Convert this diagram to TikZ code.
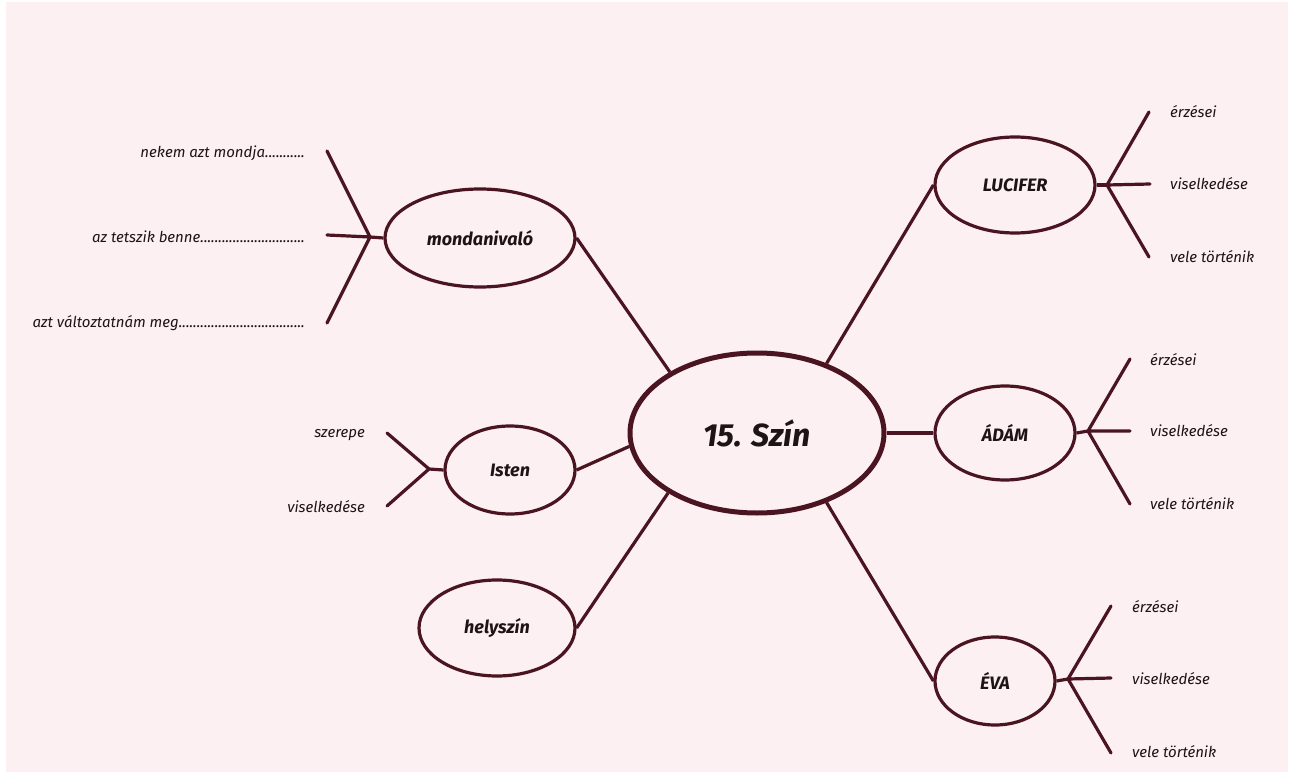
\documentclass[tikz,border=0pt]{standalone}
\usepackage{fontspec}
\setmainfont{Fira Sans}
\usetikzlibrary{shapes.geometric}
\definecolor{paper}{HTML}{FCF0F2}
\definecolor{wine}{HTML}{4A1520}
\definecolor{ink}{HTML}{1E1316}
\begin{document}
\begin{tikzpicture}[x=1pt,y=-1pt,
  topic/.style={ellipse,draw=wine,line width=3.2pt,inner sep=0pt,text=ink,
    font=\bfseries\itshape\fontsize{18}{21}\selectfont},
  hub/.style={ellipse,draw=wine,line width=5pt,inner sep=0pt,text=ink,
    minimum width=254pt,minimum height=160pt,
    font=\bfseries\itshape\fontsize{32}{36}\selectfont},
  link/.style={draw=wine,line width=3.2pt},
  twig/.style={draw=wine,line width=3.2pt,line cap=round},
  note/.style={inner sep=0pt,text=ink,font=\itshape\fontsize{15}{18}\selectfont}]

% paper
\fill[white] (0,0) rectangle (1293,778);
\fill[paper] (6,2) rectangle (1288,772);

% central scene
\node[hub] (scene) at (757,433) {15. Szín};

% topics
\node[topic,minimum width=190pt,minimum height=98pt] (mond) at (480,238) {mondanivaló};
\node[topic,minimum width=130pt,minimum height=88pt] (isten) at (510,470) {Isten};
\node[topic,minimum width=156pt,minimum height=96pt] (hely) at (497,628) {helyszín};
\node[topic,minimum width=160pt,minimum height=96pt] (luc) at (1015,185) {LUCIFER};
\node[topic,minimum width=140pt,minimum height=94pt] (adam) at (1005,433) {ÁDÁM};
\node[topic,minimum width=120pt,minimum height=88pt] (eva) at (995,681) {ÉVA};

% spokes from the scene
\draw[link] (scene.145.6) -- (mond.east);
\draw[link] (scene.45) -- (luc.west);
\draw[link] (scene.186.4) -- (isten.east);
\draw[link] (scene.214) -- (hely.east);
\draw[link] (scene.east) -- (adam.west);
\draw[link] (scene.-45.8) -- (eva.west);

% mondanivaló fork
\coordinate (mj) at (370,237);
\coordinate (m1) at (327,151);
\coordinate (m2) at (327,235);
\coordinate (m3) at (327,323);
\draw[link] (mond.west) -- (mj);
\draw[twig] (mj) -- (m1) (mj) -- (m2) (mj) -- (m3);
\node[note,anchor=east] (mt1) at (305,153) {nekem azt mondja...........};
\node[note,anchor=east] (mt2) at (305,237) {az tetszik benne.............................};
\node[note,anchor=east] (mt3) at (305,323) {azt változtatnám meg...................................};

% Isten fork
\coordinate (ij) at (429,469);
\coordinate (i1) at (387,433);
\coordinate (i2) at (387,506);
\draw[link] (isten.west) -- (ij);
\draw[twig] (ij) -- (i1) (ij) -- (i2);
\node[note,anchor=east] (it1) at (365,435) {szerepe};
\node[note,anchor=east] (it2) at (365,507) {viselkedése};

% LUCIFER fork
\coordinate (lj) at (1107,185);
\coordinate (l1) at (1149,112);
\coordinate (l2) at (1150,184);
\coordinate (l3) at (1149,257);
\draw[link] (luc.east) -- (lj);
\draw[twig] (lj) -- (l1) (lj) -- (l2) (lj) -- (l3);
\node[note,anchor=west] (lt1) at (1170,112) {érzései};
\node[note,anchor=west] (lt2) at (1170,184) {viselkedése};
\node[note,anchor=west] (lt3) at (1170,257) {vele történik};

% ÁDÁM fork
\coordinate (aj) at (1088,431);
\coordinate (a1) at (1130,359);
\coordinate (a2) at (1130,431);
\coordinate (a3) at (1130,504);
\draw[link] (adam.east) -- (aj);
\draw[twig] (aj) -- (a1) (aj) -- (a2) (aj) -- (a3);
\node[note,anchor=west] (at1) at (1150,360) {érzései};
\node[note,anchor=west] (at2) at (1150,431) {viselkedése};
\node[note,anchor=west] (at3) at (1150,504) {vele történik};

% ÉVA fork
\coordinate (ej) at (1068,679);
\coordinate (e1) at (1111,606);
\coordinate (e2) at (1111,678);
\coordinate (e3) at (1111,753);
\draw[link] (eva.east) -- (ej);
\draw[twig] (ej) -- (e1) (ej) -- (e2) (ej) -- (e3);
\node[note,anchor=west] (et1) at (1132,607) {érzései};
\node[note,anchor=west] (et2) at (1132,679) {viselkedése};
\node[note,anchor=west] (et3) at (1132,752) {vele történik};
\end{tikzpicture}
\end{document}
